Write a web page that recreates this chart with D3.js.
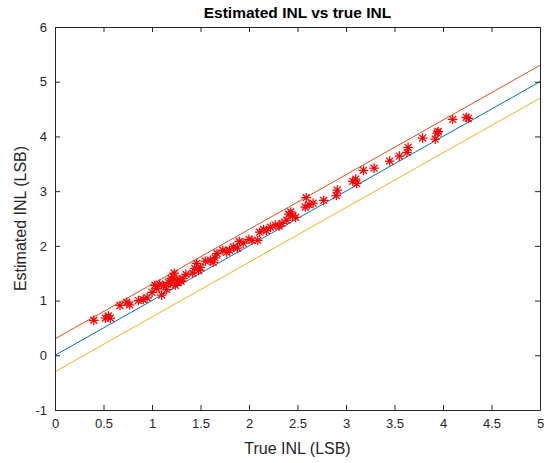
<!DOCTYPE html>
<html>
<head>
<meta charset="utf-8">
<script src="https://cdn.jsdelivr.net/npm/d3@7"></script>
<style>
body{margin:0;background:#fff;}
svg{display:block;font-family:"Liberation Sans",Arial,Helvetica,sans-serif;}
</style>
</head>
<body>
<svg id="chart" width="552" height="463"></svg>
<script>
const trueINL = [0.40,0.52,0.55,0.57,0.67,0.74,0.77,0.86,0.91,0.95,1.00,1.03,1.05,1.08,1.10,1.12,1.15,1.17,1.19,1.20,1.22,1.23,1.24,1.26,1.28,1.30,1.32,1.35,1.42,1.44,1.46,1.48,1.50,1.55,1.60,1.63,1.65,1.67,1.73,1.77,1.80,1.84,1.88,1.90,1.94,2.00,2.03,2.09,2.11,2.15,2.18,2.22,2.27,2.31,2.34,2.39,2.41,2.43,2.45,2.48,2.58,2.59,2.62,2.66,2.77,2.90,2.91,3.07,3.10,3.11,3.18,3.29,3.45,3.55,3.63,3.64,3.79,3.92,3.94,3.95,4.10,4.24,4.26];
const estINL = [0.64,0.68,0.72,0.68,0.91,0.97,0.92,1.00,1.02,1.05,1.15,1.28,1.22,1.30,1.10,1.27,1.20,1.33,1.32,1.40,1.43,1.50,1.28,1.33,1.38,1.35,1.40,1.48,1.50,1.59,1.68,1.55,1.60,1.72,1.74,1.70,1.78,1.86,1.92,1.88,1.92,1.98,1.96,2.08,2.05,2.12,2.10,2.10,2.25,2.30,2.28,2.34,2.38,2.36,2.41,2.47,2.58,2.62,2.55,2.52,2.71,2.88,2.75,2.78,2.83,2.92,3.02,3.18,3.22,3.14,3.38,3.42,3.55,3.64,3.71,3.80,3.97,3.95,4.06,4.09,4.31,4.35,4.33];
const lineX = [0, 5];
const lineOffsets = [0, 0.3, -0.3];
const lineColors = ["#0072BD", "#D95319", "#EDB120"];
const xTicks = [0,0.5,1,1.5,2,2.5,3,3.5,4,4.5,5];
const yTicks = [-1,0,1,2,3,4,5,6];

const svg = d3.select("#chart");
const L = 55, R = 540, T = 27, B = 410;
const x = d3.scaleLinear().domain([0,5]).range([L,R]);
const y = d3.scaleLinear().domain([-1,6]).range([B,T]);
const axisColor = "#262626";

svg.append("rect").attr("x",L).attr("y",T).attr("width",R-L).attr("height",B-T).attr("fill","#fff");

const lineGen = d3.line().x(d=>x(d[0])).y(d=>y(d[1]));
lineOffsets.forEach((off,i)=>{
  svg.append("path")
    .attr("d", lineGen(lineX.map(v=>[v, v+off])))
    .attr("fill","none").attr("stroke",lineColors[i]).attr("stroke-width",1);
});

const s = 4.8, sd = s*0.72;
const star = `M${-s},0L${s},0M0,${-s}L0,${s}M${-sd},${-sd}L${sd},${sd}M${-sd},${sd}L${sd},${-sd}`;
svg.append("g").selectAll("path").data(trueINL.map((t,i)=>[t, estINL[i]])).join("path")
  .attr("transform", d=>`translate(${x(d[0])},${y(d[1])})`)
  .attr("d", star).attr("fill","none").attr("stroke","#FF0000").attr("stroke-width",1.25);

const fmt = d=>String(d);
const xb = svg.append("g").attr("transform",`translate(0,${B})`)
  .call(d3.axisBottom(x).tickValues(xTicks).tickFormat(fmt).tickSizeInner(-5).tickSizeOuter(0).tickPadding(9));
const xt = svg.append("g").attr("transform",`translate(0,${T})`)
  .call(d3.axisTop(x).tickValues(xTicks).tickFormat("").tickSizeInner(-5).tickSizeOuter(0));
const yl = svg.append("g").attr("transform",`translate(${L},0)`)
  .call(d3.axisLeft(y).tickValues(yTicks).tickFormat(fmt).tickSizeInner(-5).tickSizeOuter(0).tickPadding(8));
const yr = svg.append("g").attr("transform",`translate(${R},0)`)
  .call(d3.axisRight(y).tickValues(yTicks).tickFormat("").tickSizeInner(-5).tickSizeOuter(0));
[xb,xt,yl,yr].forEach(g=>{
  g.selectAll("path.domain").attr("stroke",axisColor).attr("stroke-width",1);
  g.selectAll(".tick line").attr("stroke",axisColor);
  g.selectAll(".tick text").attr("fill",axisColor).attr("font-size","13px").attr("font-family","'Liberation Sans',Arial,sans-serif");
});

svg.append("text").attr("x",(L+R)/2).attr("y",18).attr("text-anchor","middle")
  .attr("font-size","15.5px").attr("font-weight","bold").attr("fill","#000").text("Estimated INL vs true INL");
svg.append("text").attr("x",(L+R)/2).attr("y",454).attr("text-anchor","middle")
  .attr("font-size","16px").attr("fill",axisColor).text("True INL (LSB)");
svg.append("text").attr("transform",`translate(26,${(T+B)/2}) rotate(-90)`).attr("text-anchor","middle")
  .attr("font-size","16px").attr("fill",axisColor).text("Estimated INL (LSB)");
</script>
</body>
</html>
